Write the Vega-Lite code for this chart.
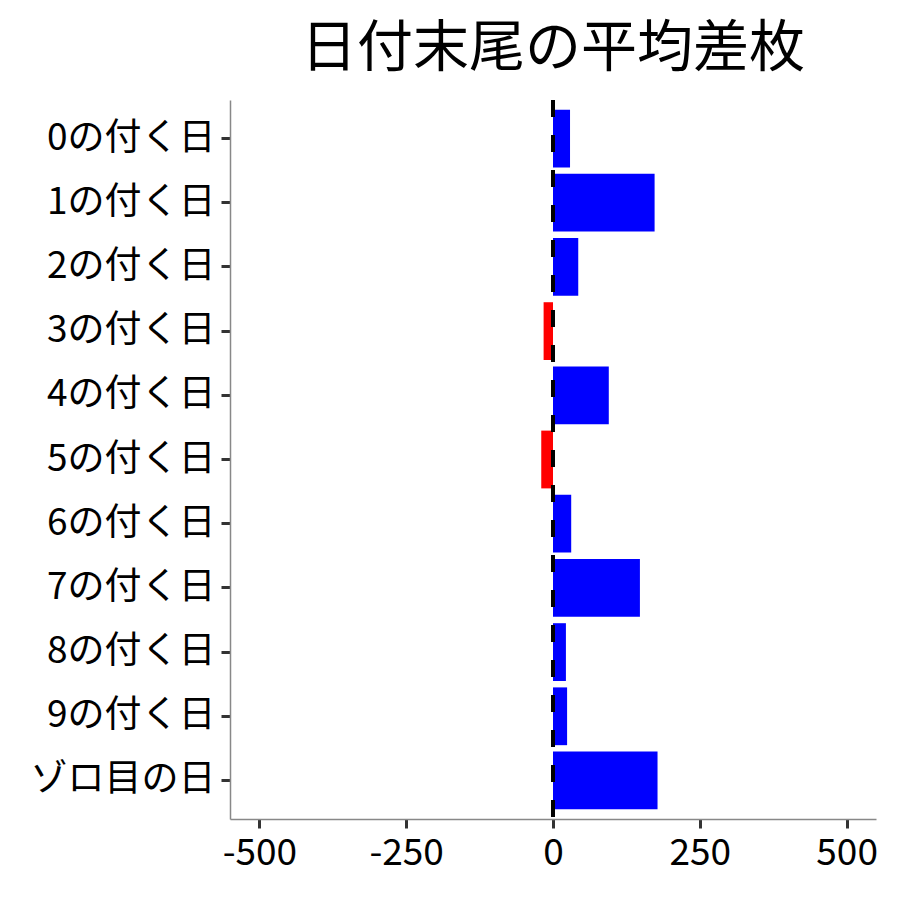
{
  "$schema": "https://vega.github.io/schema/vega-lite/v6.json",
  "autosize": "none",
  "width": 646,
  "height": 719,
  "padding": {"left": 230, "top": 100, "right": 24, "bottom": 81},
  "background": "white",
  "config": {"view": {"stroke": null}, "font": "Noto Sans CJK JP"},
  "title": {"text": "日付末尾の平均差枚", "fontSize": 56, "font": "Noto Sans CJK JP", "fontWeight": "normal", "color": "black", "anchor": "middle", "frame": "group", "offset": 21},
  "data": {"values": [
    {"day": "0の付く日", "diff": 29},
    {"day": "1の付く日", "diff": 173},
    {"day": "2の付く日", "diff": 43},
    {"day": "3の付く日", "diff": -16},
    {"day": "4の付く日", "diff": 95},
    {"day": "5の付く日", "diff": -20},
    {"day": "6の付く日", "diff": 31},
    {"day": "7の付く日", "diff": 148},
    {"day": "8の付く日", "diff": 22},
    {"day": "9の付く日", "diff": 24},
    {"day": "ゾロ目の日", "diff": 178}
  ]},
  "layer": [
    {
      "mark": {"type": "bar"},
      "encoding": {
        "y": {"field": "day", "type": "nominal", "sort": null,
          "scale": {"paddingInner": 0.1, "paddingOuter": 0.15},
          "axis": {"title": null, "labelFontSize": 37, "labelLimit": 400, "labelColor": "black", "labelPadding": 6, "domainColor": "#888888", "domainWidth": 1.5, "tickColor": "#333333", "tickWidth": 3, "tickSize": 9}},
        "x": {"field": "diff", "type": "quantitative",
          "scale": {"domain": [-550, 550], "nice": false, "zero": false},
          "axis": {"title": null, "values": [-500, -250, 0, 250, 500], "labelExpr": "replace(datum.label, '−', '-')", "grid": false, "labelFontSize": 37, "labelColor": "black", "labelPadding": 7, "domainColor": "#888888", "domainWidth": 1.5, "tickColor": "#333333", "tickWidth": 3, "tickSize": 9}},
        "color": {"condition": {"test": "datum.diff < 0", "value": "#FF0000"}, "value": "#0000FF"}
      }
    },
    {
      "mark": {"type": "rule", "color": "black", "strokeWidth": 3, "strokeDash": [17, 18]},
      "encoding": {"x": {"datum": 0}}
    }
  ]
}
